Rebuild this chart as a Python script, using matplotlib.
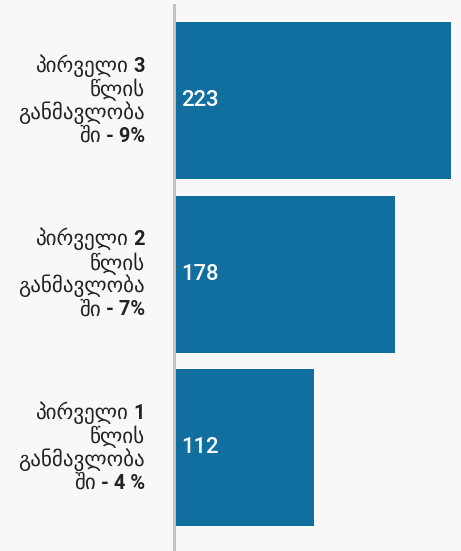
import matplotlib
matplotlib.use('Agg')
import matplotlib.pyplot as plt
import matplotlib.transforms as mtransforms

# 3 bars, top -> bottom
years = ['3', '2', '1']
shares = ['9%', '7%', '4 %']
values = [223, 178, 112]

BAR_COLOR = '#116fa0'
BG = '#f8f8f8'
FONT = ['Roboto', 'DejaVu Sans']

W, H, DPI = 461, 551, 100
px = 72.0 / DPI  # pixels -> points


def main():
    plt.rcParams['font.family'] = FONT
    fig = plt.figure(figsize=(W / DPI, H / DPI), dpi=DPI, facecolor=BG)
    # axes from x=175px to 451px, y=5px to bottom
    ax = fig.add_axes([175 / W, 0, (451 - 175) / W, (H - 5) / H])
    ax.set_facecolor(BG)

    pos = list(range(len(values)))
    ax.barh(pos, values, height=0.905, color=BAR_COLOR)
    ax.set_xlim(0, max(values))
    ax.set_ylim(2.5937, -0.5504)

    for s in ['top', 'right', 'bottom']:
        ax.spines[s].set_visible(False)
    ax.spines['left'].set_color('#c4c4c4')
    ax.spines['left'].set_linewidth(3 * px)
    ax.spines['left'].set_position(('outward', 1.5 * px))
    ax.set_xticks([])
    ax.set_yticks([])

    # value labels inside bars
    for p, v in zip(pos, values):
        ax.annotate(str(v), xy=(0, p), xytext=(6 * px, 0), textcoords='offset points',
                    ha='left', va='center', color='white', fontsize=22 * px,
                    fontweight='medium')

    # category labels, right aligned at x=145px
    trans = mtransforms.blended_transform_factory(fig.transFigure, ax.transData)
    xr = 145 / W
    fs = 20 * px     # digits / latin
    gfs = 21 * px    # georgian (DejaVu glyphs are narrow)
    txt = '#222222'
    offs = [29.0, 4.5, -18.0, -41.0]
    for p, yr, sh in zip(pos, years, shares):
        b1 = ax.annotate(yr, xy=(xr, p), xycoords=trans, xytext=(0, offs[0] * px),
                         textcoords='offset points', ha='right', va='baseline',
                         fontsize=fs, fontweight='bold', color=txt)
        ax.annotate('პირველი', xy=(0, p), xycoords=(b1, trans), xytext=(-5 * px, offs[0] * px),
                    textcoords='offset points', ha='right', va='baseline', fontsize=gfs, color=txt)
        ax.annotate('წლის', xy=(xr, p), xycoords=trans, xytext=(0, offs[1] * px),
                    textcoords='offset points', ha='right', va='baseline', fontsize=gfs, color=txt)
        ax.annotate('განმავლობა', xy=(xr, p), xycoords=trans, xytext=(0, offs[2] * px),
                    textcoords='offset points', ha='right', va='baseline', fontsize=gfs, color=txt)
        b4 = ax.annotate('- ' + sh, xy=(xr, p), xycoords=trans, xytext=(0, offs[3] * px),
                         textcoords='offset points', ha='right', va='baseline',
                         fontsize=fs, fontweight='bold', color=txt)
        ax.annotate('ში', xy=(0, p), xycoords=(b4, trans), xytext=(-5 * px, offs[3] * px),
                    textcoords='offset points', ha='right', va='baseline', fontsize=gfs, color=txt)

    fig.savefig('out.png', dpi=DPI, facecolor=BG)


if __name__ == '__main__':
    main()
